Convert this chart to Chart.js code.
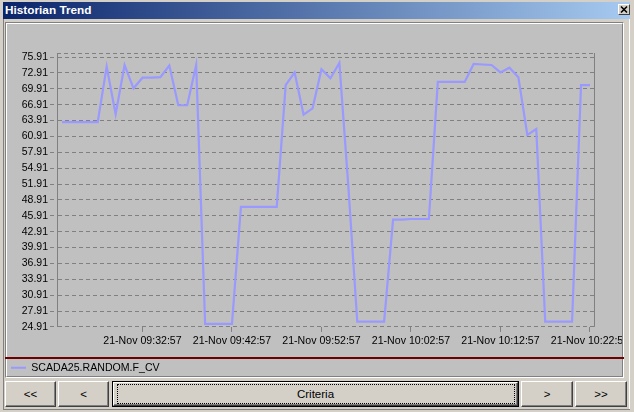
<!DOCTYPE html>
<html><head><meta charset="utf-8">
<script src="https://cdn.jsdelivr.net/npm/chart.js@4.4.1/dist/chart.umd.min.js"></script>
<style>
html,body{margin:0;padding:0;}
body{width:634px;height:412px;position:relative;background:#D4D0C8;overflow:hidden;font-family:"Liberation Sans",Arial,sans-serif;}
.abs{position:absolute;box-sizing:border-box;}
.title{left:3px;top:2px;width:627px;height:17px;background:linear-gradient(to right,#0A246A,#A6CAF0);color:#fff;font-weight:bold;font-size:11.8px;line-height:17px;padding-left:2px;}
.close{left:618px;top:4px;width:12px;height:11px;background:#D4D0C8;border-top:1px solid #fff;border-left:1px solid #fff;border-right:1px solid #404040;border-bottom:1px solid #404040;}
.panel{left:5px;top:22px;width:619px;height:356px;border-top:1px solid #808080;border-left:1px solid #808080;border-right:1px solid #fff;border-bottom:1px solid #fff;}
.panelin{left:0;top:0;right:0;bottom:0;border-top:1px solid #fff;border-left:1px solid #fff;border-right:1px solid #808080;border-bottom:1px solid #808080;background:#C0C0C0;}
.sep{left:5px;top:357px;width:619px;height:2px;background:#700000;}
.btn{top:381px;height:26px;background:#D4D0C8;border-top:1px solid #fff;border-left:1px solid #fff;border-right:1px solid #404040;border-bottom:1px solid #404040;box-shadow:inset -1px -1px 0 #808080;font-size:11.5px;color:#000;display:flex;align-items:center;justify-content:center;}
.crit{top:381px;left:112px;width:407px;height:26px;border:1px solid #000;}
.focus{left:117px;top:384px;width:398px;height:20px;border:1px dotted #000;}
#wrap{left:7px;top:24px;width:615px;height:359px;overflow:hidden;}
</style></head>
<body>
<div class="abs" style="left:3px;top:19px;width:1px;height:390px;background:#808080"></div>
<div class="abs" style="left:629px;top:19px;width:1px;height:391px;background:#fff"></div>
<div class="abs" style="left:3px;top:409px;width:627px;height:1px;background:#808080"></div>
<div class="abs title">Historian Trend</div>
<div class="abs close"><svg width="10" height="9" style="position:absolute;left:0;top:0"><path d="M2 1.5 L8 7.5 M8 1.5 L2 7.5" stroke="#000" stroke-width="1.6"/></svg></div>
<div class="abs panel"><div class="abs panelin"></div></div>
<div class="abs sep"></div>
<div class="abs btn" style="left:5px;width:51px">&lt;&lt;</div>
<div class="abs btn" style="left:58px;width:51px">&lt;</div>
<div class="abs crit"><div class="abs btn" style="left:0;top:0;width:405px;height:24px">Criteria</div></div>
<div class="abs focus"></div>
<div class="abs btn" style="left:521px;width:52px">&gt;</div>
<div class="abs btn" style="left:575px;width:52px">&gt;&gt;</div>
<div class="abs" id="wrap"><canvas id="c" width="615" height="359"></canvas></div>
<script>
const seriesName = "SCADA25.RANDOM.F_CV";
const times = [
 "09:23:57","09:24:57","09:25:57","09:26:57","09:27:57","09:28:57","09:29:57","09:30:57","09:31:57","09:32:57",
 "09:33:57","09:34:57","09:35:57","09:36:57","09:37:57","09:38:57","09:39:57","09:40:57","09:41:57","09:42:57",
 "09:43:57","09:44:57","09:45:57","09:46:57","09:47:57","09:48:57","09:49:57","09:50:57","09:51:57","09:52:57",
 "09:53:57","09:54:57","09:55:57","09:56:57","09:57:57","09:58:57","09:59:57","10:00:57","10:01:57","10:02:57",
 "10:03:57","10:04:57","10:05:57","10:06:57","10:07:57","10:08:57","10:09:57","10:10:57","10:11:57","10:12:57",
 "10:13:57","10:14:57","10:15:57","10:16:57","10:17:57","10:18:57","10:19:57","10:20:57","10:21:57","10:22:57"];
const values = [
 63.6,63.6,63.6,63.6,63.6,74.1,65.1,74.4,70.0,72.0,
 72.0,72.1,74.3,66.8,66.8,74.4,25.5,25.5,25.5,25.5,
 47.6,47.6,47.6,47.6,47.6,70.6,73.0,65.0,66.2,73.6,
 71.9,74.8,51.5,25.9,25.9,25.9,25.9,45.2,45.2,45.3,
 45.3,45.3,71.2,71.2,71.2,71.2,74.6,74.5,74.4,73.0,
 73.9,72.1,61.2,62.3,25.9,25.9,25.9,25.9,70.6,70.6];
const yTickLabels = ["24.91","27.91","30.91","33.91","36.91","39.91","42.91","45.91","48.91","51.91","54.91","57.91","60.91","63.91","66.91","69.91","72.91","75.91"];
const xTickLabels = ["21-Nov 09:32:57","21-Nov 09:42:57","21-Nov 09:52:57","21-Nov 10:02:57","21-Nov 10:12:57","21-Nov 10:22:57"];
const xRange = ["09:23:24","10:23:24"];
const yRange = [24.91, 76.67];

const LINE = '#9999FF', GRID = '#808080', FONT = '"Liberation Sans", Arial, sans-serif';
function toSec(s){const p=s.split(':').map(Number);return p[0]*3600+p[1]*60+p[2];}
const xTickValues = xTickLabels.map(l=>toSec(l.split(' ')[1]));
const yTickValues = yTickLabels.map(parseFloat);
const points = times.map((t,i)=>({x:toSec(t),y:values[i]}));

const framePlugin = {id:'frame', beforeDatasetsDraw(chart){
  const {ctx, chartArea:a} = chart;
  ctx.save(); ctx.strokeStyle=GRID; ctx.lineWidth=1;
  ctx.setLineDash([4,3]); ctx.beginPath(); ctx.moveTo(a.left, Math.round(a.top)+0.5); ctx.lineTo(a.right, Math.round(a.top)+0.5); ctx.stroke();
  ctx.setLineDash([]); ctx.beginPath(); ctx.moveTo(Math.round(a.right)+0.5, a.top); ctx.lineTo(Math.round(a.right)+0.5, a.bottom); ctx.stroke();
  ctx.restore();
}};

new Chart(document.getElementById('c'), {
  type:'line',
  data:{datasets:[{label:seriesName, data:points, borderColor:LINE, backgroundColor:LINE, borderWidth:2.2, pointRadius:0, tension:0, fill:false}]},
  options:{
    responsive:false, animation:false, devicePixelRatio:1,
    layout:{padding:{top:29,right:28,left:0,bottom:0}, autoPadding:false},
    plugins:{
      tooltip:{enabled:false},
      legend:{display:true, position:'bottom', align:'start',
        labels:{boxWidth:15, boxHeight:2, padding:4, color:'#000', font:{family:FONT, size:10.6},
          generateLabels(chart){return Chart.defaults.plugins.legend.labels.generateLabels(chart).map(l=>Object.assign(l,{lineWidth:0, fillStyle:LINE}));}}}
    },
    scales:{
      x:{type:'linear', min:toSec(xRange[0]), max:toSec(xRange[1]),
        afterBuildTicks:s=>{s.ticks = xTickValues.map(v=>({value:v}));},
        afterFit:s=>{s.height=31.5; s.paddingLeft=0; s.paddingRight=0;},
        ticks:{autoSkip:false, maxRotation:0, minRotation:0, padding:3, color:'#000', font:{family:FONT, size:10.6},
          callback:(v)=>{const i=xTickValues.indexOf(v);return i>=0?xTickLabels[i]:'';}},
        grid:{drawOnChartArea:false, drawTicks:true, tickLength:5, color:GRID, tickColor:GRID},
        border:{display:false}
      },
      y:{type:'linear', min:yRange[0], max:yRange[1],
        afterBuildTicks:s=>{s.ticks = yTickValues.map(v=>({value:v}));},
        afterFit:s=>{s.width=50; s.paddingTop=0; s.paddingBottom=0;},
        ticks:{padding:2, color:'#000', font:{family:FONT, size:10.5},
          callback:(v)=>{const i=yTickValues.indexOf(v);return i>=0?yTickLabels[i]:'';}},
        grid:{drawTicks:true, tickLength:7, color:GRID, tickColor:GRID, tickBorderDash:[4,3]},
        border:{display:true, color:GRID, width:1, dash:[4,3]}
      }
    }
  },
  plugins:[framePlugin]
});
</script>
</body></html>
